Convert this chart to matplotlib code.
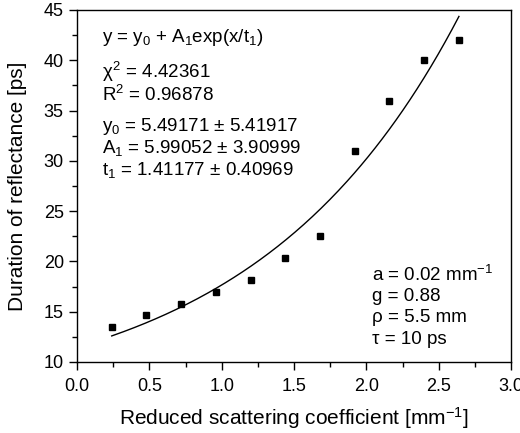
import numpy as np
import matplotlib.pyplot as plt
from matplotlib.ticker import MultipleLocator

plt.rcParams['font.family'] = ['Liberation Sans', 'DejaVu Sans']
plt.rcParams['mathtext.fontset'] = 'custom'
plt.rcParams['mathtext.rm'] = 'Liberation Sans'
plt.rcParams['mathtext.it'] = 'Liberation Sans'

# measured points
mu_s = [0.24, 0.48, 0.72, 0.96, 1.20, 1.44, 1.68, 1.92, 2.16, 2.40, 2.64]
duration = [13.5, 14.7, 15.8, 17.0, 18.2, 20.3, 22.5, 31.0, 36.0, 40.0, 42.0]

# exponential fit parameters (as printed on chart)
y0 = 5.49171
A1 = 5.99052
t1 = 1.41177

fig = plt.figure(figsize=(5.2, 4.33), dpi=100)
ax = fig.add_axes([77 / 520, 1 - 362 / 433, 434 / 520, 352 / 433])

xf = np.linspace(mu_s[0], mu_s[-1], 200)
ax.plot(xf, y0 + A1 * np.exp(xf / t1), color='black', lw=1.0)
ax.plot(mu_s, duration, 's', color='black', ms=4.8)

ax.set_xlim(0, 3)
ax.set_ylim(10, 45)
ax.xaxis.set_major_locator(MultipleLocator(0.5))
ax.xaxis.set_minor_locator(MultipleLocator(0.25))
ax.yaxis.set_major_locator(MultipleLocator(5))
ax.yaxis.set_minor_locator(MultipleLocator(2.5))
ax.xaxis.set_major_formatter(plt.FormatStrFormatter('%.1f'))
ax.tick_params(which='both', direction='out', top=False, right=False, labelsize=13)
ax.tick_params(which='major', length=6, width=1)
ax.tick_params(which='minor', length=3.5, width=1)
ax.tick_params(axis='x', pad=5.5)
for s in ax.spines.values():
    s.set_linewidth(1.0)

ax.set_xlabel('Reduced scattering coefficient [mm$^{-1}$]', fontsize=15, labelpad=7)
ax.set_ylabel('Duration of reflectance [ps]', fontsize=15, labelpad=12)

fs = 13.5
left = [
    (0.923, r'y = y$_0$ + A$_1$exp(x/t$_1$)'),
    (0.824, r'$\chi^2$ = 4.42361'),
    (0.759, r'R$^2$ = 0.96878'),
    (0.670, r'y$_0$ = 5.49171 $\pm$ 5.41917'),
    (0.608, r'A$_1$ = 5.99052 $\pm$ 3.90999'),
    (0.545, r't$_1$ = 1.41177 $\pm$ 0.40969'),
]
for yy, s in left:
    ax.text(0.057, yy, s, transform=ax.transAxes, fontsize=fs, va='center')

right = [
    (0.247, r'a = 0.02 mm$^{-1}$'),
    (0.185, 'g = 0.88'),
    (0.125, 'ρ = 5.5 mm'),
    (0.065, 'τ = 10 ps'),
]
for yy, s in right:
    ax.text(0.680, yy, s, transform=ax.transAxes, fontsize=fs, va='center')

fig.savefig('out.png', dpi=100)
